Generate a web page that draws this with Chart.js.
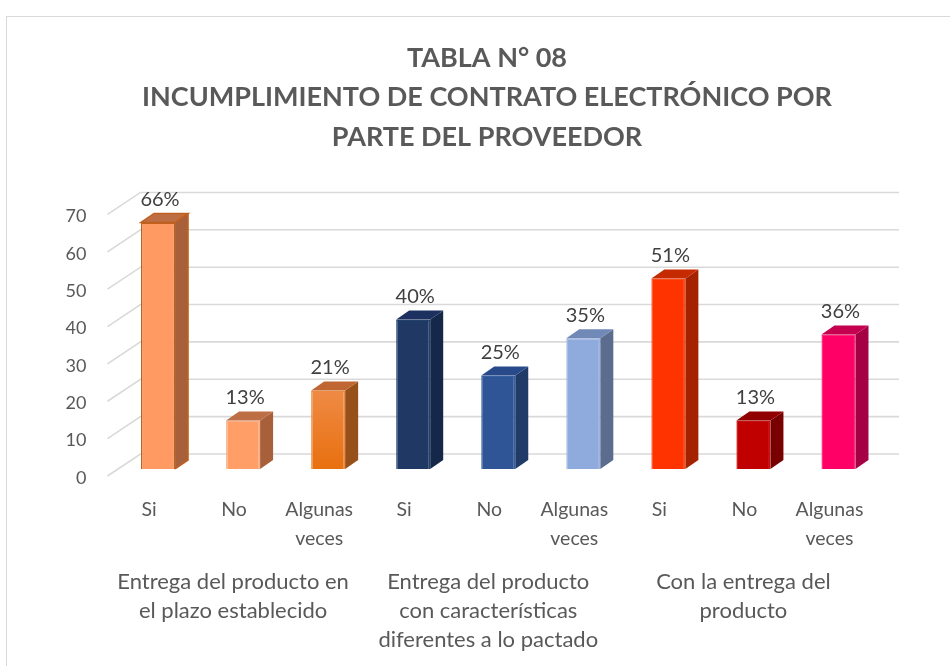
<!DOCTYPE html>
<html>
<head>
<meta charset="utf-8">
<script src="https://cdn.jsdelivr.net/npm/chart.js@4.4.1/dist/chart.umd.min.js"></script>
<style>
    body { margin: 0; background: #fff; }
    #marco { position: absolute; left: 6px; top: 16px; width: 1000px; height: 700px; border: 1px solid #d9d9d9; }
    #contenedor { position: absolute; left: 0; top: 0; width: 950px; height: 666px; }
</style>
</head>
<body>
<div id="marco"></div>
<div id="contenedor"><canvas id="barChart"></canvas></div>
<script>
// datos de la tabla
const categorias = [['Si'], ['No'], ['Algunas', 'veces'], ['Si'], ['No'], ['Algunas', 'veces'], ['Si'], ['No'], ['Algunas', 'veces']];
const grupos = [
    ['Entrega del producto en', 'el plazo establecido'],
    ['Entrega del producto', 'con características', 'diferentes a lo pactado'],
    ['Con la entrega del', 'producto']
];
const porcentajes = [66, 13, 21, 40, 25, 35, 51, 13, 36];
const titulo = ['TABLA N° 08', 'INCUMPLIMIENTO DE CONTRATO ELECTRÓNICO POR', 'PARTE DEL PROVEEDOR'];

// colores (frente, lado, tapa, borde)
const colorFrente = ['#FF9B62', '#FF9E66', '#EE7A2A', '#1F3864', '#2F5597', '#8FAADC', '#FF3300', '#C00000', '#FF0066'];
const colorLado = ['#A8603A', '#A8603A', '#98501A', '#16284A', '#213B69', '#5B6C8E', '#A42200', '#780000', '#A50044'];
const colorTapa = ['#BE6E44', '#BE6E44', '#C06632', '#1C3160', '#28498A', '#7189B6', '#C62A00', '#900000', '#C4004F'];
const colorBorde = ['#C0601E', '#F8B088', '#F08A3E', '#22406E', '#3560A0', '#9DB4E0', '#FF4A1A', '#C81010', '#FF2A7A'];

const TEXTO = '#595959';
const FUENTE = 'Lato';
const PROF = { dx: 13, dy: -9 };       // profundidad de la barra
const PISO = { dx: 33, dy: -22 };      // profundidad del piso / pared

const efecto3d = {
    id: 'efecto3d',
    beforeDatasetsDraw(chart) {
        const ctx = chart.ctx;
        const y = chart.scales.y;
        const area = chart.chartArea;
        ctx.save();
        ctx.strokeStyle = '#d9d9d9';
        ctx.lineWidth = 1.6;
        y.ticks.forEach(t => {
            const py = y.getPixelForValue(t.value);
            ctx.beginPath();
            ctx.moveTo(area.left - 8, py + 7);
            ctx.lineTo(area.left - 8 + PISO.dx, py + 7 + PISO.dy);
            ctx.lineTo(area.right + 18, py + 7 + PISO.dy);
            ctx.stroke();
        });
        ctx.restore();
    },
    afterDatasetsDraw(chart) {
        const ctx = chart.ctx;
        const meta = chart.getDatasetMeta(0);
        ctx.save();
        meta.data.forEach((bar, i) => {
            const p = bar.getProps(['x', 'y', 'base', 'width'], true);
            const x0 = p.x - p.width / 2, x1 = p.x + p.width / 2;
            // lado
            ctx.fillStyle = colorLado[i];
            ctx.beginPath();
            ctx.moveTo(x1, p.y);
            ctx.lineTo(x1 + PROF.dx, p.y + PROF.dy);
            ctx.lineTo(x1 + PROF.dx, p.base + PROF.dy);
            ctx.lineTo(x1, p.base);
            ctx.closePath();
            ctx.fill();
            // tapa
            ctx.fillStyle = colorTapa[i];
            ctx.beginPath();
            ctx.moveTo(x0, p.y);
            ctx.lineTo(x0 + PROF.dx, p.y + PROF.dy);
            ctx.lineTo(x1 + PROF.dx, p.y + PROF.dy);
            ctx.lineTo(x1, p.y);
            ctx.closePath();
            ctx.fill();
            if (i === 0) {
                ctx.strokeStyle = colorBorde[0];
                ctx.lineWidth = 1.5;
                ctx.stroke();
                ctx.beginPath();
                ctx.moveTo(x1 + PROF.dx, p.y + PROF.dy);
                ctx.lineTo(x1 + PROF.dx, p.base + PROF.dy);
                ctx.lineTo(x1, p.base);
                ctx.stroke();
            }
            // etiqueta
            ctx.fillStyle = '#404040';
            ctx.font = '20px ' + FUENTE;
            ctx.textAlign = 'center';
            ctx.textBaseline = 'middle';
            ctx.fillText(porcentajes[i] + '%', p.x + 2, p.y - 23);
        });
        // etiquetas de grupo
        const xs = chart.scales.x;
        ctx.fillStyle = TEXTO;
        ctx.font = '22px ' + FUENTE;
        grupos.forEach((lineas, g) => {
            const cx = xs.getPixelForValue(g * 3 + 1) - 10;
            lineas.forEach((l, k) => ctx.fillText(l, cx, 582 + k * 29));
        });
        ctx.restore();
    }
};

const ctx = document.getElementById('barChart').getContext('2d');
new Chart(ctx, {
    type: 'bar',
    data: {
        labels: categorias,
        datasets: [{
            data: porcentajes,
            backgroundColor: function(c) {
                if (c.dataIndex !== 2 || !c.chart.chartArea) return colorFrente[c.dataIndex];
                const a = c.chart.chartArea;
                const yTop = c.chart.scales.y.getPixelForValue(porcentajes[2]);
                const g = c.chart.ctx.createLinearGradient(0, yTop, 0, a.bottom);
                g.addColorStop(0, '#EF8A45');
                g.addColorStop(1, '#E8700F');
                return g;
            },
            borderColor: colorBorde,
            borderWidth: 1.5,
            barPercentage: 0.4,
            categoryPercentage: 1
        }]
    },
    options: {
        responsive: true,
        maintainAspectRatio: false,
        animation: false,
        layout: { padding: { left: 93, right: 69, top: 0, bottom: 0 } },
        plugins: {
            legend: { display: false },
            tooltip: { enabled: false },
            title: {
                display: true,
                text: titulo,
                color: TEXTO,
                font: { family: FUENTE, size: 27, weight: 'bold', lineHeight: 1.45 },
                padding: { top: 39, bottom: 51 }
            }
        },
        scales: {
            x: {
                grid: { display: false },
                border: { display: false },
                ticks: {
                    color: TEXTO,
                    font: { family: FUENTE, size: 19.5, lineHeight: 1.49 },
                    padding: 18,
                    labelOffset: -9,
                    maxRotation: 0,
                    autoSkip: false
                },
                afterFit(s) { s.height = 197; }
            },
            y: {
                min: 0,
                max: 70,
                grid: { display: false },
                border: { display: false },
                ticks: {
                    stepSize: 10,
                    color: TEXTO,
                    font: { family: FUENTE, size: 18 },
                    mirror: true,
                    crossAlign: 'far',
                    padding: -50,
                    labelOffset: 9
                },
                afterFit(s) { s.width = 22.5; }
            }
        }
    },
    plugins: [efecto3d]
});
</script>
</body>
</html>
